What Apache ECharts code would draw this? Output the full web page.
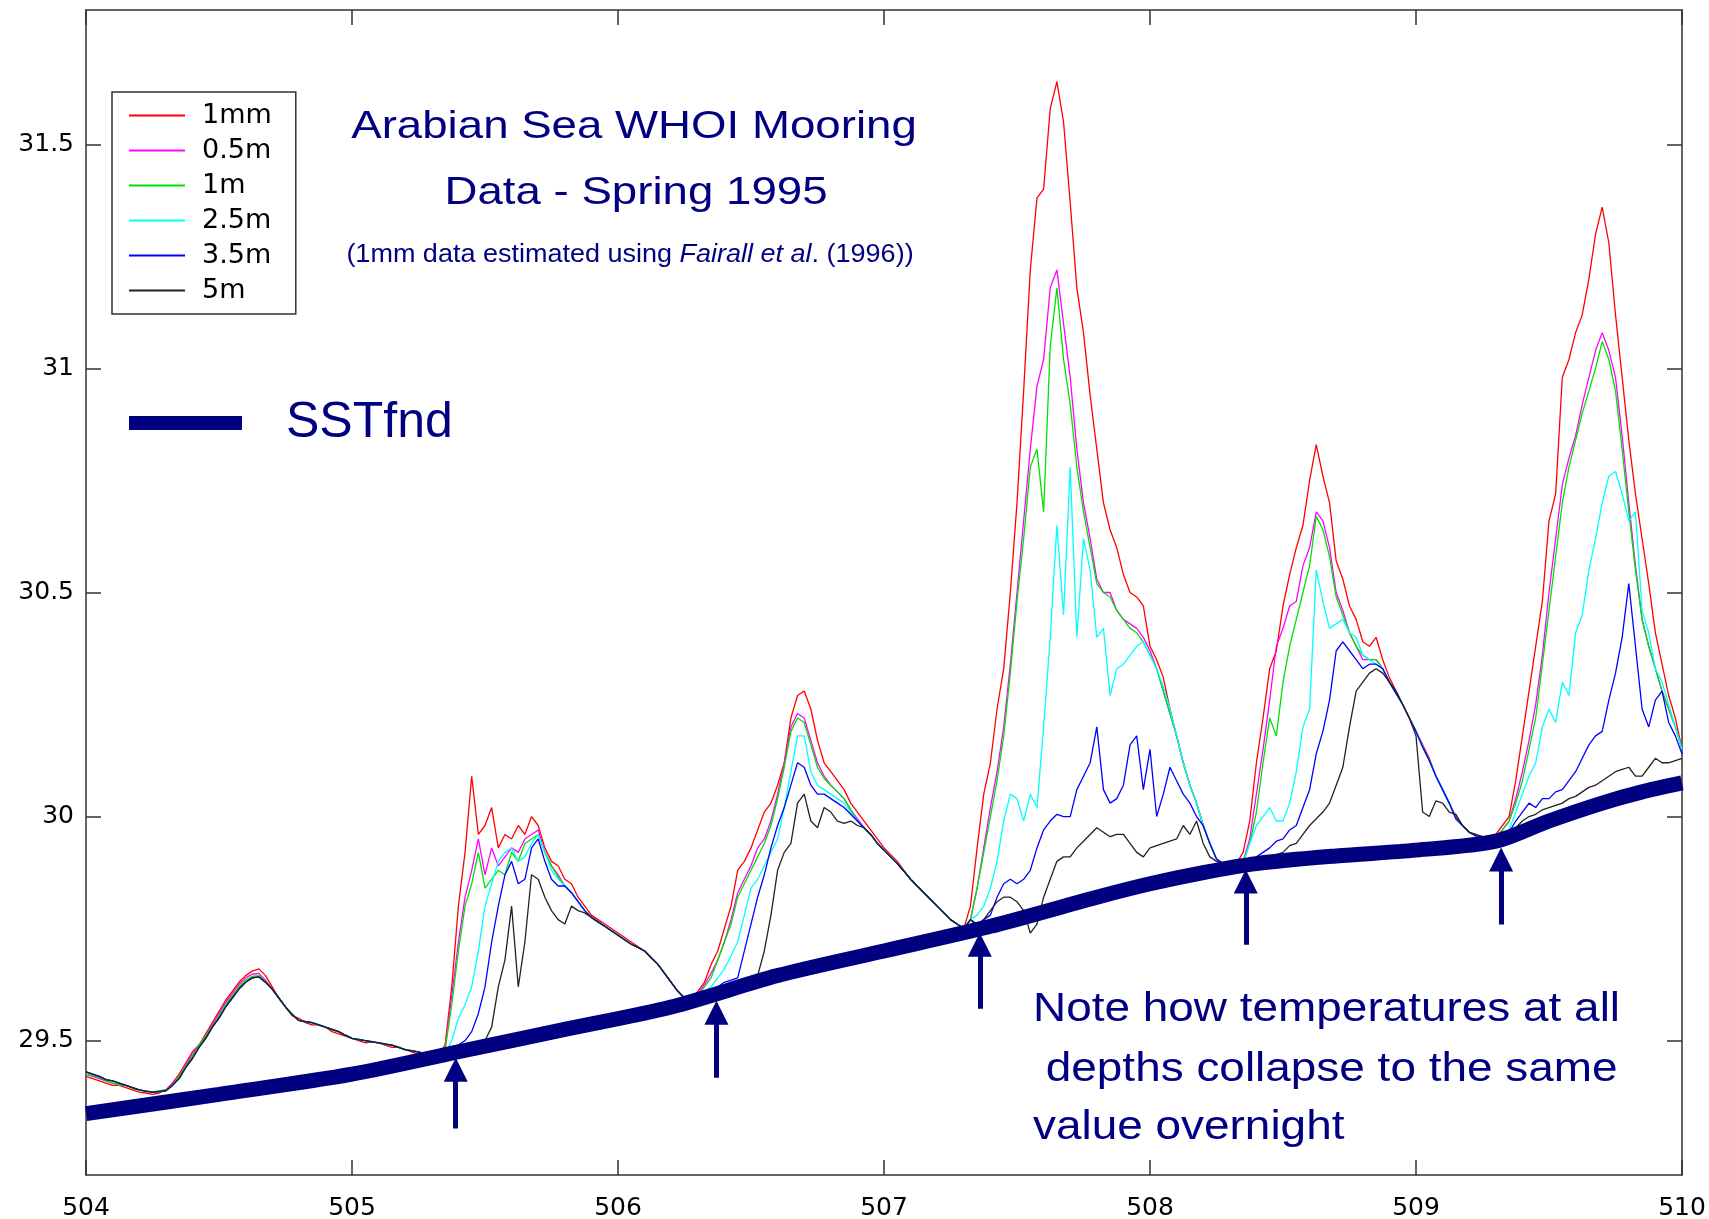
<!DOCTYPE html>
<html>
<head>
<meta charset="utf-8">
<title>Arabian Sea WHOI Mooring</title>
<script src="https://cdn.jsdelivr.net/npm/echarts@6.0.0/dist/echarts.min.js"></script>
<style>
  html, body { margin: 0; padding: 0; background: #fff; }
  #main { width: 1709px; height: 1219px; }
</style>
</head>
<body>
<div id="main"></div>
<script>
// sample times (day), every 0.025 day
var days = [
    504.000, 504.025, 504.050, 504.075, 504.100, 504.125, 504.150, 504.175, 504.200, 504.225,
    504.250, 504.275, 504.300, 504.325, 504.350, 504.375, 504.400, 504.425, 504.450, 504.475,
    504.500, 504.525, 504.550, 504.575, 504.600, 504.625, 504.650, 504.675, 504.700, 504.725,
    504.750, 504.775, 504.800, 504.825, 504.850, 504.875, 504.900, 504.925, 504.950, 504.975,
    505.000, 505.025, 505.050, 505.075, 505.100, 505.125, 505.150, 505.175, 505.200, 505.225,
    505.250, 505.275, 505.300, 505.325, 505.350, 505.375, 505.400, 505.425, 505.450, 505.475,
    505.500, 505.525, 505.550, 505.575, 505.600, 505.625, 505.650, 505.675, 505.700, 505.725,
    505.750, 505.775, 505.800, 505.825, 505.850, 505.875, 505.900, 505.925, 505.950, 505.975,
    506.000, 506.025, 506.050, 506.075, 506.100, 506.125, 506.150, 506.175, 506.200, 506.225,
    506.250, 506.275, 506.300, 506.325, 506.350, 506.375, 506.400, 506.425, 506.450, 506.475,
    506.500, 506.525, 506.550, 506.575, 506.600, 506.625, 506.650, 506.675, 506.700, 506.725,
    506.750, 506.775, 506.800, 506.825, 506.850, 506.875, 506.900, 506.925, 506.950, 506.975,
    507.000, 507.025, 507.050, 507.075, 507.100, 507.125, 507.150, 507.175, 507.200, 507.225,
    507.250, 507.275, 507.300, 507.325, 507.350, 507.375, 507.400, 507.425, 507.450, 507.475,
    507.500, 507.525, 507.550, 507.575, 507.600, 507.625, 507.650, 507.675, 507.700, 507.725,
    507.750, 507.775, 507.800, 507.825, 507.850, 507.875, 507.900, 507.925, 507.950, 507.975,
    508.000, 508.025, 508.050, 508.075, 508.100, 508.125, 508.150, 508.175, 508.200, 508.225,
    508.250, 508.275, 508.300, 508.325, 508.350, 508.375, 508.400, 508.425, 508.450, 508.475,
    508.500, 508.525, 508.550, 508.575, 508.600, 508.625, 508.650, 508.675, 508.700, 508.725,
    508.750, 508.775, 508.800, 508.825, 508.850, 508.875, 508.900, 508.925, 508.950, 508.975,
    509.000, 509.025, 509.050, 509.075, 509.100, 509.125, 509.150, 509.175, 509.200, 509.225,
    509.250, 509.275, 509.300, 509.325, 509.350, 509.375, 509.400, 509.425, 509.450, 509.475,
    509.500, 509.525, 509.550, 509.575, 509.600, 509.625, 509.650, 509.675, 509.700, 509.725,
    509.750, 509.775, 509.800, 509.825, 509.850, 509.875, 509.900, 509.925, 509.950, 509.975,
    510.000];

// stretches where the deeper sensors read the same (shared pieces)
var dayOneA = [29.425, 29.42, 29.415, 29.41, 29.405, 29.402, 29.40, 29.395, 29.39, 29.387,
    29.385, 29.387, 29.39, 29.403, 29.42, 29.445, 29.47, 29.49, 29.51, 29.535,
    29.56, 29.585, 29.605, 29.625, 29.64, 29.648, 29.65, 29.635, 29.615, 29.595,
    29.575, 29.558, 29.545, 29.542, 29.54, 29.535, 29.53, 29.525, 29.52, 29.512,
    29.505, 29.502, 29.50, 29.498, 29.495, 29.492, 29.49, 29.485, 29.48, 29.477,
    29.475, 29.47, 29.465];
var dayOneB = [29.425, 29.422, 29.418, 29.41, 29.405, 29.40, 29.40, 29.393, 29.39, 29.386,
    29.385, 29.388, 29.39, 29.40, 29.42, 29.443, 29.465, 29.49, 29.51, 29.532,
    29.555, 29.58, 29.60, 29.62, 29.635, 29.643, 29.645, 29.632, 29.615, 29.594,
    29.575, 29.56, 29.545, 29.543, 29.54, 29.534, 29.53, 29.524, 29.52, 29.512,
    29.505, 29.503, 29.50, 29.497, 29.495, 29.493, 29.49, 29.486, 29.48, 29.478,
    29.475, 29.47, 29.465];
var dayOneC = [29.43, 29.425, 29.42, 29.413, 29.41, 29.405, 29.40, 29.395, 29.39, 29.387,
    29.385, 29.386, 29.388, 29.40, 29.415, 29.44, 29.46, 29.485, 29.505, 29.53,
    29.55, 29.575, 29.595, 29.615, 29.63, 29.64, 29.642, 29.63, 29.615, 29.595,
    29.575, 29.558, 29.545, 29.542, 29.54, 29.535, 29.53, 29.525, 29.52, 29.512,
    29.505, 29.502, 29.50, 29.497, 29.495, 29.492, 29.49, 29.485, 29.48, 29.477,
    29.475, 29.47, 29.465];
var coolB = [29.845, 29.83, 29.81, 29.79, 29.775, 29.765, 29.755, 29.745, 29.735, 29.725,
    29.715, 29.708, 29.70, 29.685, 29.67, 29.65, 29.63, 29.61, 29.595, 29.59];
var coolC = [29.975, 29.96, 29.94, 29.925, 29.91, 29.895, 29.878, 29.86, 29.845, 29.83,
    29.815, 29.80, 29.785, 29.77, 29.76, 29.75, 29.77];
var coolD = [29.98, 29.94, 29.905, 29.895, 29.89, 29.895];
var coolE = [30.30, 30.275, 30.25, 30.22, 30.19, 30.155, 30.125, 30.09, 30.06, 30.03,
    29.995, 29.98, 29.965, 29.957, 29.955, 29.955];

// 1mm (estimated skin)
var t1mm = [].concat(
    [29.42, 29.415, 29.41, 29.405, 29.40, 29.40, 29.395, 29.39, 29.385, 29.383,
     29.38, 29.383, 29.39, 29.405, 29.425, 29.45, 29.475, 29.49, 29.515, 29.54,
     29.565, 29.59, 29.61, 29.63, 29.645, 29.655, 29.66, 29.645, 29.62, 29.595,
     29.575, 29.555, 29.55, 29.54, 29.535, 29.535, 29.53, 29.52, 29.515, 29.51,
     29.505, 29.50, 29.495, 29.497, 29.495, 29.49, 29.485, 29.485, 29.48, 29.475,
     29.47, 29.47, 29.465],
    [29.47, 29.49, 29.62, 29.80, 29.92, 30.09, 29.96, 29.98, 30.02, 29.93,
     29.96, 29.95, 29.98, 29.96, 30.00, 29.98, 29.93, 29.90, 29.89,
     29.86, 29.85, 29.82, 29.80, 29.78, 29.77, 29.76, 29.75, 29.74, 29.73,
     29.72, 29.71, 29.70, 29.685, 29.67, 29.65, 29.63, 29.61, 29.595, 29.59],
    [29.61, 29.63, 29.67, 29.70, 29.75, 29.80, 29.88, 29.90, 29.93, 29.97,
     30.01, 30.03, 30.07, 30.12, 30.22, 30.27, 30.28, 30.24, 30.17, 30.12,
     30.10, 30.08, 30.06, 30.03, 30.01,
     29.99, 29.97, 29.95, 29.93, 29.915, 29.90, 29.88, 29.86, 29.845, 29.83,
     29.815, 29.80, 29.785, 29.77, 29.76, 29.75, 29.80],
    [29.93, 30.05, 30.12, 30.24, 30.33, 30.50, 30.70, 30.95, 31.22, 31.38,
     31.40, 31.58, 31.64, 31.55, 31.37, 31.18, 31.08, 30.94, 30.82, 30.70,
     30.64, 30.60, 30.54, 30.50, 30.49, 30.47, 30.38, 30.35, 30.31, 30.24,
     30.18, 30.12, 30.07, 30.03],
    coolD,
    [29.92, 29.99, 30.12, 30.22, 30.33, 30.37, 30.47, 30.54, 30.60, 30.65,
     30.75, 30.83, 30.76, 30.70, 30.57, 30.53, 30.47, 30.44, 30.39, 30.38,
     30.40, 30.35, 30.31, 30.28, 30.25, 30.22, 30.19, 30.16, 30.13, 30.09,
     30.06, 30.03, 30.00, 29.98, 29.965, 29.957, 29.955, 29.955],
    [29.96, 29.98, 30.00, 30.08, 30.18, 30.28, 30.38, 30.48, 30.66, 30.72,
     30.98, 31.02, 31.08, 31.12, 31.20, 31.30, 31.36, 31.28, 31.12, 30.98,
     30.84, 30.72, 30.62, 30.52, 30.41, 30.34, 30.27, 30.22, 30.15]
);

// 0.5m
var t05m = [].concat(
    dayOneA,
    [29.468, 29.48, 29.60, 29.72, 29.82, 29.88, 29.95, 29.87, 29.93, 29.89,
     29.91, 29.93, 29.92, 29.95, 29.96, 29.97, 29.92, 29.89, 29.87],
    coolB,
    [29.605, 29.625, 29.65, 29.68, 29.72, 29.77, 29.83, 29.86, 29.89, 29.93,
     29.95, 29.99, 30.05, 30.12, 30.20, 30.23, 30.22, 30.17, 30.12, 30.09,
     30.07, 30.055, 30.04, 30.015, 29.995],
    coolC,
    [29.84, 29.93, 30.02, 30.10, 30.20, 30.34, 30.50, 30.66, 30.82, 30.96,
     31.02, 31.18, 31.22, 31.10, 30.98, 30.82, 30.70, 30.62, 30.53, 30.50,
     30.50, 30.46, 30.44, 30.43, 30.42, 30.40, 30.37, 30.33, 30.28, 30.23,
     30.18, 30.12, 30.07, 30.03],
    coolD,
    [29.90, 29.95, 30.05, 30.15, 30.26, 30.38, 30.42, 30.47, 30.48, 30.56,
     30.60, 30.68, 30.66, 30.60, 30.50, 30.46, 30.41, 30.38, 30.35, 30.35,
     30.35, 30.33],
    coolE,
    [29.955, 29.97, 29.99, 30.04, 30.10, 30.17, 30.25, 30.36, 30.50, 30.62,
     30.74, 30.80, 30.85, 30.92, 30.98, 31.04, 31.08, 31.04, 30.98, 30.85,
     30.70, 30.56, 30.44, 30.38, 30.33, 30.28, 30.24, 30.20, 30.15]
);

// 1m
var t1m = [].concat(
    dayOneB,
    [29.468, 29.48, 29.58, 29.70, 29.80, 29.85, 29.92, 29.84, 29.86, 29.88,
     29.87, 29.92, 29.90, 29.94, 29.95, 29.96, 29.92, 29.89, 29.865],
    coolB,
    [29.60, 29.62, 29.64, 29.68, 29.72, 29.76, 29.82, 29.85, 29.88, 29.91,
     29.94, 29.98, 30.04, 30.11, 30.19, 30.22, 30.21, 30.16, 30.11, 30.085,
     30.07, 30.055, 30.04, 30.015, 29.99],
    coolC,
    [29.84, 29.92, 30.00, 30.08, 30.18, 30.32, 30.48, 30.62, 30.78, 30.82,
     30.68, 31.05, 31.18, 31.02, 30.92, 30.78, 30.68, 30.60, 30.52, 30.50,
     30.49, 30.46, 30.44, 30.42, 30.41, 30.39, 30.36, 30.33, 30.28, 30.23,
     30.18, 30.12, 30.07, 30.03],
    coolD,
    [29.90, 29.94, 30.01, 30.12, 30.22, 30.18, 30.30, 30.38, 30.44, 30.50,
     30.56, 30.67, 30.64, 30.58, 30.49, 30.45, 30.41, 30.38, 30.36, 30.35,
     30.35, 30.33],
    coolE,
    [29.955, 29.97, 29.99, 30.03, 30.08, 30.15, 30.22, 30.34, 30.46, 30.58,
     30.70, 30.78, 30.84, 30.90, 30.95, 31.00, 31.06, 31.02, 30.95, 30.82,
     30.68, 30.55, 30.44, 30.38, 30.33, 30.28, 30.24, 30.20, 30.15]
);

// 2.5m
var t25m = [].concat(
    dayOneC,
    [29.466, 29.47, 29.50, 29.55, 29.58, 29.62, 29.70, 29.80, 29.85, 29.90,
     29.92, 29.93, 29.90, 29.91, 29.94, 29.96, 29.92, 29.88, 29.86],
    coolB,
    [29.60, 29.61, 29.62, 29.64, 29.66, 29.69, 29.72, 29.78, 29.84, 29.86,
     29.89, 29.92, 29.95, 30.02, 30.10, 30.18, 30.18, 30.10, 30.07, 30.06,
     30.05, 30.04, 30.03, 30.01, 29.99],
    coolC,
    [29.78, 29.80, 29.84, 29.90, 29.99, 30.05, 30.04, 29.99, 30.05, 30.02,
     30.20, 30.40, 30.65, 30.45, 30.78, 30.40, 30.62, 30.55, 30.40, 30.42,
     30.27, 30.33, 30.34, 30.36, 30.38, 30.39, 30.36, 30.33, 30.29, 30.24,
     30.18, 30.12, 30.07, 30.03],
    coolD,
    [29.895, 29.94, 29.98, 30.00, 30.02, 29.99, 29.99, 30.03, 30.10, 30.20,
     30.24, 30.55, 30.48, 30.42, 30.43, 30.44, 30.41, 30.40, 30.36, 30.35,
     30.34, 30.33],
    coolE,
    [29.955, 29.96, 29.97, 30.01, 30.05, 30.09, 30.12, 30.20, 30.24, 30.21,
     30.30, 30.27, 30.41, 30.45, 30.55, 30.62, 30.70, 30.76, 30.77, 30.72,
     30.66, 30.68, 30.46, 30.41, 30.33, 30.30, 30.25, 30.20, 30.15]
);

// 3.5m
var t35m = [].concat(
    dayOneC,
    [29.466, 29.47, 29.475, 29.49, 29.50, 29.52, 29.56, 29.62, 29.72, 29.80,
     29.87, 29.90, 29.85, 29.86, 29.93, 29.95, 29.90, 29.86, 29.845],
    coolB,
    [29.60, 29.605, 29.615, 29.62, 29.63, 29.635, 29.64, 29.70, 29.76, 29.82,
     29.87, 29.93, 29.98, 30.02, 30.07, 30.12, 30.11, 30.07, 30.05, 30.05,
     30.04, 30.03, 30.02, 30.005, 29.99],
    coolC,
    [29.76, 29.77, 29.78, 29.82, 29.85, 29.86, 29.85, 29.86, 29.88, 29.93,
     29.97, 29.99, 30.005, 30.00, 30.00, 30.06, 30.09, 30.12, 30.20, 30.06,
     30.03, 30.04, 30.07, 30.16, 30.18, 30.06, 30.15, 30.00, 30.05, 30.11,
     30.08, 30.05, 30.03, 30.00],
    coolD,
    [29.89, 29.90, 29.91, 29.92, 29.93, 29.945, 29.95, 29.97, 29.98, 30.02,
     30.06, 30.14, 30.19, 30.26, 30.37, 30.39, 30.37, 30.35, 30.33, 30.34,
     30.34, 30.33],
    coolE,
    [29.955, 29.96, 29.965, 29.99, 30.01, 30.03, 30.02, 30.04, 30.04, 30.055,
     30.06, 30.08, 30.10, 30.13, 30.16, 30.18, 30.19, 30.26, 30.32, 30.40,
     30.52, 30.38, 30.24, 30.20, 30.26, 30.28, 30.21, 30.18, 30.14]
);

// 5m
var t5m = [].concat(
    dayOneC,
    [29.466, 29.47, 29.47, 29.47, 29.475, 29.48, 29.49, 29.50, 29.53, 29.62,
     29.68, 29.80, 29.62, 29.72, 29.87, 29.86, 29.82, 29.79, 29.77],
    [29.76, 29.80, 29.79, 29.785, 29.775, 29.765, 29.755, 29.745, 29.735, 29.725,
     29.715, 29.708, 29.70, 29.685, 29.67, 29.65, 29.63, 29.61, 29.595, 29.59],
    [29.60, 29.605, 29.61, 29.615, 29.62, 29.625, 29.625, 29.63, 29.64, 29.645,
     29.70, 29.78, 29.88, 29.92, 29.94, 30.03, 30.05, 29.99, 29.975, 30.02,
     30.01, 29.99, 29.985, 29.99, 29.98],
    coolC,
    [29.755, 29.77, 29.79, 29.81, 29.82, 29.82, 29.81, 29.79, 29.74, 29.76,
     29.82, 29.86, 29.90, 29.91, 29.91, 29.93, 29.945, 29.96, 29.975, 29.965,
     29.955, 29.96, 29.96, 29.94, 29.92, 29.91, 29.93, 29.935, 29.94, 29.945,
     29.95, 29.98, 29.96, 29.99],
    [29.94, 29.91, 29.90, 29.895, 29.89, 29.895],
    [29.89, 29.895, 29.90, 29.905, 29.91, 29.915, 29.92, 29.935, 29.94, 29.96,
     29.98, 29.995, 30.01, 30.03, 30.07, 30.11, 30.20, 30.28, 30.30, 30.32,
     30.33, 30.32],
    [30.30, 30.28, 30.25, 30.22, 30.18, 30.01, 30.00, 30.035, 30.03, 30.01,
     30.005, 29.98, 29.965, 29.96, 29.955, 29.955],
    [29.955, 29.958, 29.96, 29.975, 29.99, 30.00, 30.005, 30.015, 30.02, 30.025,
     30.03, 30.04, 30.045, 30.055, 30.065, 30.07, 30.08, 30.09, 30.10, 30.105,
     30.11, 30.09, 30.09, 30.11, 30.13, 30.12, 30.12, 30.125, 30.13]
);

// foundation SST
var sstDays = [504.0, 504.5, 505.0, 505.4, 505.8, 506.2, 506.6, 507.0, 507.4, 507.8,
    508.0, 508.2, 508.4, 508.7, 509.0, 509.3, 509.5, 509.7, 509.85, 510.0];
var sstVals = [29.337, 29.38, 29.425, 29.475, 29.525, 29.575, 29.645, 29.70, 29.755, 29.82,
    29.85, 29.875, 29.895, 29.912, 29.925, 29.945, 29.99, 30.03, 30.055, 30.075];

// night-time arrows (shaft bottom and head position)
var arrowDays = [505.39, 506.37, 507.36, 508.36, 509.32];
var arrowHead = [29.435, 29.562, 29.714, 29.855, 29.904];
var arrowBase = [29.304, 29.417, 29.571, 29.714, 29.759];

var yTicks = [29.5, 30, 30.5, 31, 31.5];

var depthNames = ['1mm', '0.5m', '1m', '2.5m', '3.5m', '5m'];
var depthColors = ['#ff0000', '#ff00ff', '#00e000', '#00ffff', '#0000ff', '#222222'];
var depthData = [t1mm, t05m, t1m, t25m, t35m, t5m];

var NAVY = '#000080';
var AXIS = '#333333';

function pairs(xs, ys) {
    return xs.map(function (x, i) { return [x, ys[i]]; });
}

var chart = echarts.init(document.getElementById('main'));

var series = depthNames.map(function (name, i) {
    return {
        name: name,
        type: 'line',
        data: pairs(days, depthData[i]),
        symbol: 'none',
        showSymbol: false,
        lineStyle: { color: depthColors[i], width: 1.3 },
        itemStyle: { color: depthColors[i] },
        z: 2
    };
});

series.push({
    name: 'SSTfnd',
    type: 'line',
    data: pairs(sstDays, sstVals),
    symbol: 'none',
    showSymbol: false,
    smooth: 0.3,
    lineStyle: { color: NAVY, width: 15 },
    itemStyle: { color: NAVY },
    z: 3
});

series.push({
    type: 'lines',
    coordinateSystem: 'cartesian2d',
    data: arrowDays.map(function (d, i) {
        return { coords: [[d, arrowBase[i]], [d, arrowHead[i]]] };
    }),
    symbol: ['none', 'triangle'],
    symbolSize: 24,
    lineStyle: { color: NAVY, width: 5, opacity: 1 },
    silent: true,
    z: 4
});

function axisCommon(extra) {
    var base = {
        type: 'value',
        axisLine: { show: true, onZero: false, lineStyle: { color: AXIS, width: 1.5 } },
        axisTick: { show: true, inside: true, length: 15, lineStyle: { color: AXIS, width: 1.5 } },
        splitLine: { show: false }
    };
    return Object.assign(base, extra);
}

var option = {
    animation: false,
    backgroundColor: '#ffffff',
    grid: { left: 86, right: 27, top: 10, bottom: 44, containLabel: false, outerBoundsMode: 'none' },
    xAxis: [
        axisCommon({
            min: 504, max: 510, interval: 1, position: 'bottom',
            axisLabel: { show: true, margin: 21, fontFamily: 'DejaVu Sans', fontSize: 25, color: '#000',
                showMinLabel: true, showMaxLabel: true }
        }),
        axisCommon({
            min: 504, max: 510, interval: 1, position: 'top',
            axisLabel: { show: false }
        })
    ],
    yAxis: [
        axisCommon({
            min: 29.2, max: 31.8, position: 'left',
            axisTick: { show: true, inside: true, length: 15, customValues: yTicks, lineStyle: { color: AXIS, width: 1.5 } },
            axisLabel: { show: true, customValues: yTicks, margin: 12, fontFamily: 'DejaVu Sans', fontSize: 25, color: '#000' }
        }),
        axisCommon({
            min: 29.2, max: 31.8, position: 'right',
            axisTick: { show: true, inside: true, length: 15, customValues: yTicks, lineStyle: { color: AXIS, width: 1.5 } },
            axisLabel: { show: false }
        })
    ],
    legend: [
        {
            data: depthNames,
            orient: 'vertical',
            left: 112,
            top: 92,
            padding: [10, 24, 10, 17],
            itemGap: 8,
            itemWidth: 56,
            itemHeight: 2,
            icon: 'rect',
            borderColor: AXIS,
            borderWidth: 1.5,
            borderRadius: 0,
            backgroundColor: '#ffffff',
            selectedMode: false,
            textStyle: { fontFamily: 'DejaVu Sans', fontSize: 27, lineHeight: 27, color: '#000', padding: [0, 0, 0, 12] }
        },
        {
            data: ['SSTfnd'],
            left: 129,
            top: 397,
            padding: 0,
            itemWidth: 113,
            itemHeight: 14,
            icon: 'rect',
            selectedMode: false,
            textStyle: { fontFamily: 'Liberation Sans', fontSize: 50, lineHeight: 52, color: NAVY, padding: [0, 0, 0, 39] }
        }
    ],
    graphic: [
        {
            type: 'text', x: 634, y: 127, scaleX: 1.17,
            style: { text: 'Arabian Sea WHOI Mooring', fontFamily: 'Liberation Sans', fontSize: 39, fill: NAVY,
                align: 'center', verticalAlign: 'middle', textAlign: 'center', textVerticalAlign: 'middle' }
        },
        {
            type: 'text', x: 636, y: 193, scaleX: 1.17,
            style: { text: 'Data - Spring 1995', fontFamily: 'Liberation Sans', fontSize: 39, fill: NAVY,
                align: 'center', verticalAlign: 'middle', textAlign: 'center', textVerticalAlign: 'middle' }
        },
        {
            type: 'text', x: 630, y: 255, scaleX: 1.08,
            style: {
                text: '(1mm data estimated using {i|Fairall et al}. (1996))',
                fontFamily: 'Liberation Sans', fontSize: 25, fill: NAVY,
                align: 'center', verticalAlign: 'middle', textAlign: 'center', textVerticalAlign: 'middle',
                rich: { i: { fontFamily: 'Liberation Sans', fontSize: 25, fontStyle: 'italic', fill: NAVY, color: NAVY } }
            }
        },
        {
            type: 'text', x: 1033, y: 1010, scaleX: 1.12,
            style: { text: 'Note how temperatures at all', fontFamily: 'Liberation Sans', fontSize: 41, fill: NAVY,
                align: 'left', verticalAlign: 'middle', textAlign: 'left', textVerticalAlign: 'middle' }
        },
        {
            type: 'text', x: 1033, y: 1070, scaleX: 1.12,
            style: { text: ' depths collapse to the same', fontFamily: 'Liberation Sans', fontSize: 41, fill: NAVY,
                align: 'left', verticalAlign: 'middle', textAlign: 'left', textVerticalAlign: 'middle' }
        },
        {
            type: 'text', x: 1033, y: 1128, scaleX: 1.12,
            style: { text: 'value overnight', fontFamily: 'Liberation Sans', fontSize: 41, fill: NAVY,
                align: 'left', verticalAlign: 'middle', textAlign: 'left', textVerticalAlign: 'middle' }
        }
    ],
    series: series
};

chart.setOption(option);
window.onresize = function () {
    chart.resize();
};
</script>
</body>
</html>
